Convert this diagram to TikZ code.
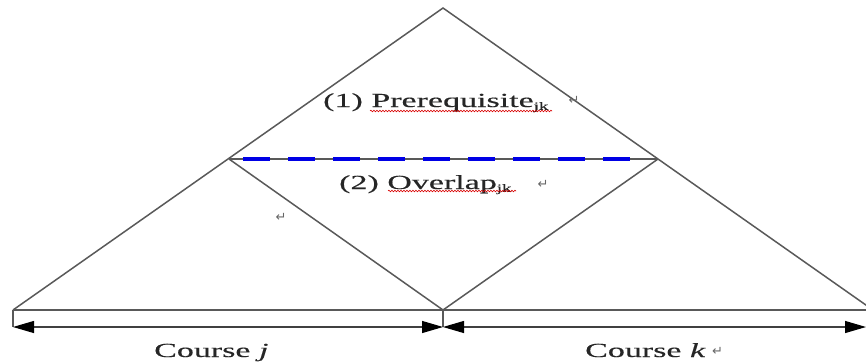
\documentclass[tikz,border=0pt]{standalone}
\usepackage{graphicx}
\usepackage{fontspec}
\setmainfont{Liberation Serif}[FakeBold=0.25]
\newfontfamily\symfont{DejaVu Sans}
\usetikzlibrary{arrows.meta,decorations.pathmorphing}
\newcommand{\widetext}[1]{\scalebox{1.7}[1]{#1}}
\begin{document}
\begin{tikzpicture}[x=1pt,y=-1pt,
  edge/.style={draw=black!65,line width=1.5pt},
  dim/.style={draw=black!75,line width=1.1pt,{Triangle[length=21pt,width=12pt,fill=black,color=black]}-{Triangle[length=21pt,width=12pt,fill=black,color=black]}},
  lbl/.style={inner sep=0pt,anchor=base west,text=black!85,font=\fontsize{20}{24}\selectfont},
  crs/.style={inner sep=0pt,anchor=base west,text=black!85,font=\fontsize{20}{24}\selectfont},
  ret/.style={inner sep=0pt,text=black!60,font=\symfont\fontsize{13}{13}\selectfont},
  wavy/.style={draw=red!85!black,line width=0.6pt,decorate,decoration={snake,amplitude=0.8pt,segment length=3pt}}]
\useasboundingbox (0,0) rectangle (866,362);
\clip (0,0) rectangle (866,362);
\coordinate (A) at (443,8);
\coordinate (BL) at (13,310);
\coordinate (BR) at (873,310);
\coordinate (M) at (443,310);
\coordinate (L) at (229,159);
\coordinate (R) at (658,159);
\coordinate (BLd) at (13,327);
\coordinate (Md) at (443,327);
\coordinate (BRd) at (866,327);
\coordinate (D1) at (243,159);
\coordinate (D2) at (630,159);
% triangle
\draw[edge] (BL) -- (A) -- (BR);
\draw[edge] (BL) -- (BR);
\draw[edge] (L) -- (M) -- (R);
\draw[edge] (L) -- (R);
\draw[draw=blue!90!black,line width=3.6pt,dash pattern=on 27pt off 18pt] (D1) -- (D2);
% ticks
\draw[edge] (BL) -- (BLd);
\draw[edge] (M) -- (Md);
% dimension arrows
\draw[dim] (BLd) -- (Md);
\draw[dim] (Md) -- (BRd);
% labels
\node[lbl] (t1) at (323,107) {\widetext{(1) Prerequisite\raisebox{-0.3ex}{\fontsize{11}{12}\selectfont jk}}};
\node[lbl] (t2) at (339,189) {\widetext{(2) Overlap\raisebox{-0.3ex}{\fontsize{11}{12}\selectfont jk}}};
\node[ret] (r1) at (574,100) {↵};
\node[ret] (r2) at (543,184) {↵};
\node[ret] (r3) at (281,217) {↵};
\draw[wavy] (370,111) -- (552,111);
\draw[wavy] (388,191) -- (516,191);
\node[crs] (cj) at (154,357) {\widetext{Course \textit{j}}};
\node[crs] (ck) at (585,357) {\widetext{Course \textit{k}}};
\node[ret,anchor=base west] (r4) at (712,355) {↵};
\end{tikzpicture}
\end{document}
